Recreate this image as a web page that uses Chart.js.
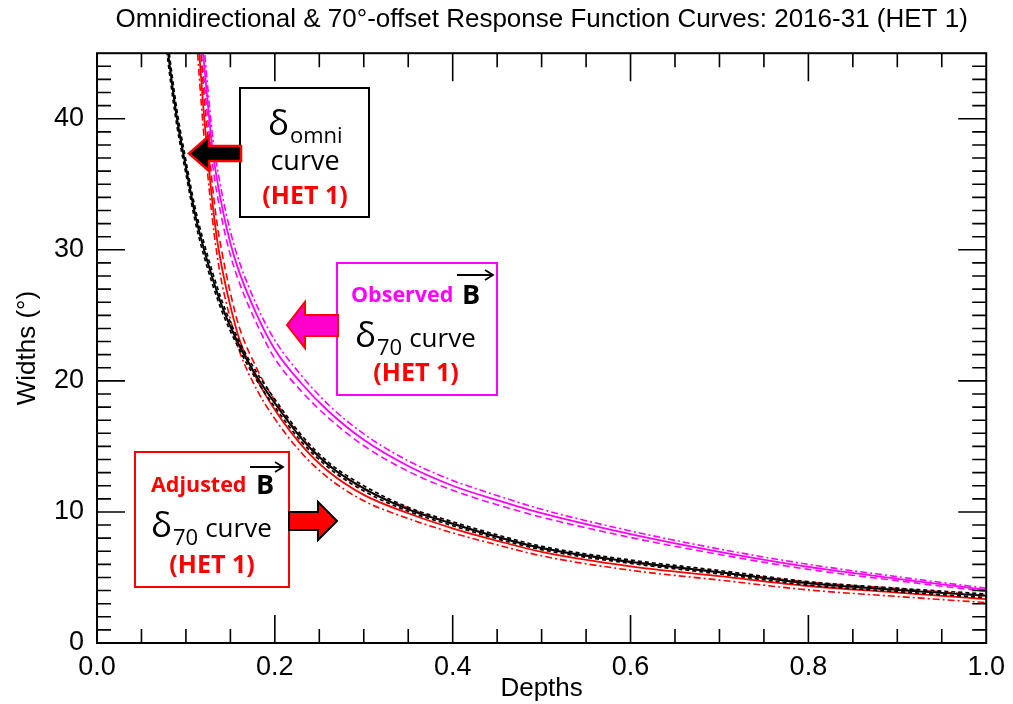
<!DOCTYPE html>
<html><head><meta charset="utf-8">
<script src="https://cdn.jsdelivr.net/npm/chart.js@4.4.0/dist/chart.umd.min.js"></script>
<style>html,body{margin:0;padding:0;background:#fff;}#wrap{width:1013px;height:704px;}</style>
</head><body><div id="wrap"><canvas id="c" width="1013" height="704"></canvas></div>
<script>
// ---- data ----
const xTicks = [0.0, 0.2, 0.4, 0.6, 0.8, 1.0];
const yTicks = [0, 10, 20, 30, 40];

const blackX  = [0.075,0.08,0.09,0.10,0.11,0.12,0.14,0.16,0.18,0.20,0.23,0.26,0.30,0.35,0.40,0.45,0.50,0.60,0.70,0.80,0.90,1.00];
const blackY  = [48,45,40,36.3,32.8,30.1,25.8,22.7,20.3,18.3,15.6,13.6,11.8,10.2,9.1,8.1,7.25,6.2,5.4,4.55,4.05,3.6];
const blackHi = [48.7,45.7,40.6,36.8,33.3,30.6,26.2,23.0,20.6,18.6,15.85,13.8,12.0,10.35,9.25,8.25,7.38,6.33,5.53,4.68,4.18,3.74];
const blackLo = [47.3,44.3,39.4,35.8,32.3,29.6,25.4,22.4,20.0,18.0,15.35,13.4,11.6,10.05,8.95,7.95,7.12,6.07,5.27,4.42,3.92,3.46];

const redX  = [0.112,0.115,0.12,0.124,0.13,0.135,0.14,0.15,0.16,0.18,0.20,0.23,0.26,0.30,0.35,0.40,0.45,0.50,0.60,0.70,0.80,0.90,1.00];
const redY  = [48,45,40.5,37.6,33.5,30.8,28.8,25.7,23.2,20.1,17.8,15.1,13.1,11.3,9.9,8.75,7.8,6.95,5.85,5.1,4.35,3.85,3.35];
const redHi = [49.9,46.8,42.1,39.1,34.8,32.0,30.0,26.7,24.1,20.9,18.5,15.7,13.6,11.75,10.3,9.1,8.1,7.25,6.15,5.4,4.65,4.15,3.63];
const redLo = [46.1,43.2,38.9,36.1,32.2,29.6,27.6,24.7,22.3,19.3,17.1,14.5,12.6,10.85,9.5,8.4,7.49,6.65,5.55,4.8,4.05,3.55,3.08];

const magX  = [0.115,0.12,0.13,0.14,0.15,0.16,0.18,0.20,0.23,0.26,0.30,0.35,0.40,0.45,0.50,0.60,0.70,0.80,0.90,1.00];
const magY  = [48,44.5,37.6,33.5,30.5,28.3,25.0,22.4,19.8,17.7,15.5,13.5,12.0,10.9,9.9,8.3,6.95,5.8,4.9,4.05];
const magHi = [49.4,45.8,38.7,34.5,31.4,29.1,25.7,23.1,20.4,18.2,15.95,13.9,12.4,11.25,10.2,8.55,7.17,6.0,5.06,4.18];
const magLo = [46.6,43.2,36.5,32.5,29.6,27.5,24.3,21.7,19.2,17.2,15.05,13.1,11.65,10.55,9.6,8.05,6.75,5.62,4.75,3.93];

const titleText = 'Omnidirectional & 70\u00B0-offset Response Function Curves: 2016-31 (HET 1)';
const xTitle = 'Depths';
const yTitle = 'Widths (\u00B0)';

// ---- build datasets ----
const pts = (xs, ys) => xs.map((v, i) => ({x: v, y: ys[i]}));
function ds(xs, ys, color, width, dash) {
  return { data: pts(xs, ys), borderColor: color, borderWidth: width, borderDash: dash,
           pointRadius: 0, fill: false, cubicInterpolationMode: 'monotone', clip: 0 };
}
const BLACK = '#000000', RED = '#ff0000', MAG = '#ff00ff';
const datasets = [
  ds(blackX, blackY, BLACK, 2, []),
  ds(blackX, blackHi, BLACK, 1.7, [4, 3]),
  ds(blackX, blackLo, BLACK, 1.7, [4, 3]),
  ds(redX, redY, RED, 1.8, []),
  ds(redX, redHi, RED, 1.6, [7, 4]),
  ds(redX, redLo, RED, 1.6, [7, 3, 2, 3]),
  ds(magX, magY, MAG, 1.8, []),
  ds(magX, magHi, MAG, 1.6, [7, 3, 2, 3]),
  ds(magX, magLo, MAG, 1.6, [7, 4]),
];

const AXFONT = "'Liberation Sans Narrow', 'Arial Narrow', 'Liberation Sans', sans-serif";
const ANFONT = "'Open Sans', 'Noto Sans', sans-serif";

// ---- frame + inward ticks ----
const framePlugin = {
  id: 'frame',
  afterDatasetsDraw(chart) {
    const {ctx, chartArea: a, scales: {x, y}} = chart;
    ctx.save();
    ctx.strokeStyle = '#000';
    ctx.lineWidth = 1.6;
    ctx.beginPath();
    for (let i = 1; i < 20; i++) {
      const px = x.getPixelForValue(i * 0.05);
      const L = (i % 4 === 0) ? 28 : 14;
      ctx.moveTo(px, a.bottom); ctx.lineTo(px, a.bottom - L);
      ctx.moveTo(px, a.top); ctx.lineTo(px, a.top + L);
    }
    for (let j = 1; j < 45; j++) {
      const py = y.getPixelForValue(j);
      const L = (j % 10 === 0) ? 28 : 14;
      ctx.moveTo(a.left, py); ctx.lineTo(a.left + L, py);
      ctx.moveTo(a.right, py); ctx.lineTo(a.right - L, py);
    }
    ctx.stroke();
    ctx.lineWidth = 2;
    ctx.strokeRect(a.left, a.top, a.right - a.left, a.bottom - a.top);
    ctx.restore();
  }
};

// ---- annotation boxes and arrows ----
function poly(ctx, p, fill, stroke, lw) {
  ctx.beginPath();
  ctx.moveTo(p[0][0], p[0][1]);
  for (let i = 1; i < p.length; i++) ctx.lineTo(p[i][0], p[i][1]);
  ctx.closePath();
  ctx.fillStyle = fill; ctx.fill();
  ctx.lineJoin = 'miter';
  ctx.strokeStyle = stroke; ctx.lineWidth = lw; ctx.stroke();
}
function box(ctx, x, y, w, h, color) {
  ctx.fillStyle = '#fff'; ctx.fillRect(x, y, w, h);
  ctx.strokeStyle = color; ctx.lineWidth = 2; ctx.strokeRect(x, y, w, h);
}
function txt(ctx, s, x, y, font, color, align) {
  ctx.font = font; ctx.fillStyle = color; ctx.textAlign = align || 'left'; ctx.textBaseline = 'alphabetic';
  ctx.fillText(s, x, y);
  return ctx.measureText(s).width;
}
function vecArrow(ctx, x1, x2, y) {
  ctx.strokeStyle = '#000'; ctx.lineWidth = 1.8;
  ctx.beginPath(); ctx.moveTo(x1, y); ctx.lineTo(x2, y); ctx.stroke();
  ctx.beginPath(); ctx.moveTo(x2 - 8, y - 5); ctx.lineTo(x2, y); ctx.lineTo(x2 - 8, y + 5); ctx.stroke();
}
function deltaLine(ctx, x, base, sub, rest) {
  let w = txt(ctx, '\u03B4', x, base, `35px ${ANFONT}`, '#000');
  const w2 = txt(ctx, sub, x + w + 1, base + 8, `22px ${ANFONT}`, '#000');
  if (rest) txt(ctx, rest, x + w + 1 + w2 + 7, base, `26px ${ANFONT}`, '#000');
}
const annoPlugin = {
  id: 'anno',
  afterDraw(chart) {
    const ctx = chart.ctx;
    ctx.save();
    // Box 1: omni
    box(ctx, 240, 88, 129, 129, '#000');
    deltaLine(ctx, 268, 135, 'omni', null);
    txt(ctx, 'curve', 305, 170, `27px ${ANFONT}`, '#000', 'center');
    txt(ctx, '(HET 1)', 305, 204, `bold 25px ${ANFONT}`, RED, 'center');
    poly(ctx, [[189,153.5],[209,136],[209,146],[241,146],[241,161],[209,161],[209,171]], '#000', RED, 2.5);

    // Box 2: observed
    box(ctx, 337, 263, 160, 132, MAG);
    txt(ctx, 'Observed', 351, 302, `bold 21.5px ${ANFONT}`, MAG);
    txt(ctx, 'B', 462, 304, `bold 27px ${ANFONT}`, '#000');
    vecArrow(ctx, 457, 493, 275);
    deltaLine(ctx, 355, 347, '70', 'curve');
    txt(ctx, '(HET 1)', 416, 381, `bold 25px ${ANFONT}`, RED, 'center');
    poly(ctx, [[287,325],[305,302],[305,315],[338,315],[338,336],[305,336],[305,348]], '#ff00cc', RED, 2);

    // Box 3: adjusted
    box(ctx, 135, 452, 154, 135, RED);
    txt(ctx, 'Adjusted', 151, 492, `bold 21.5px ${ANFONT}`, RED);
    txt(ctx, 'B', 256, 494, `bold 27px ${ANFONT}`, '#000');
    vecArrow(ctx, 250, 283, 467);
    deltaLine(ctx, 151, 537, '70', 'curve');
    txt(ctx, '(HET 1)', 212, 573, `bold 25px ${ANFONT}`, RED, 'center');
    poly(ctx, [[337,521],[318,502],[318,512],[289,512],[289,530],[318,530],[318,540]], RED, '#000', 2);
    ctx.restore();
  }
};

new Chart(document.getElementById('c'), {
  type: 'line',
  data: { datasets },
  options: {
    responsive: false,
    animation: false,
    events: [],
    layout: { padding: { left: 0, right: 23, top: 0, bottom: 0 } },
    plugins: {
      legend: { display: false },
      tooltip: { enabled: false },
      title: { display: true, text: titleText, fullSize: false, color: '#000',
               font: { family: AXFONT, size: 26, weight: 'normal' }, padding: { top: 4, bottom: 18 } }
    },
    scales: {
      x: {
        type: 'linear', min: 0, max: 1,
        afterBuildTicks: s => { s.ticks = xTicks.map(v => ({ value: v })); },
        afterFit: s => { s.height = 61; },
        grid: { display: false, drawTicks: false },
        border: { display: false },
        ticks: { color: '#000', font: { family: AXFONT, size: 27 }, padding: 8, maxRotation: 0, autoSkip: false,
                 callback: v => Number(v).toFixed(1) },
        title: { display: true, text: xTitle, color: '#000', font: { family: AXFONT, size: 26 }, padding: { top: 0, bottom: 0 } }
      },
      y: {
        type: 'linear', min: 0, max: 45,
        afterBuildTicks: s => { s.ticks = yTicks.map(v => ({ value: v })); },
        afterFit: s => { s.width = 97; },
        grid: { display: false, drawTicks: false },
        border: { display: false },
        ticks: { color: '#000', font: { family: AXFONT, size: 27 }, padding: 13, autoSkip: false,
                 callback: v => String(v) },
        title: { display: true, text: yTitle, color: '#000', font: { family: AXFONT, size: 26 }, padding: { top: 12, bottom: 0 } }
      }
    }
  },
  plugins: [framePlugin, annoPlugin]
});
</script></body></html>
